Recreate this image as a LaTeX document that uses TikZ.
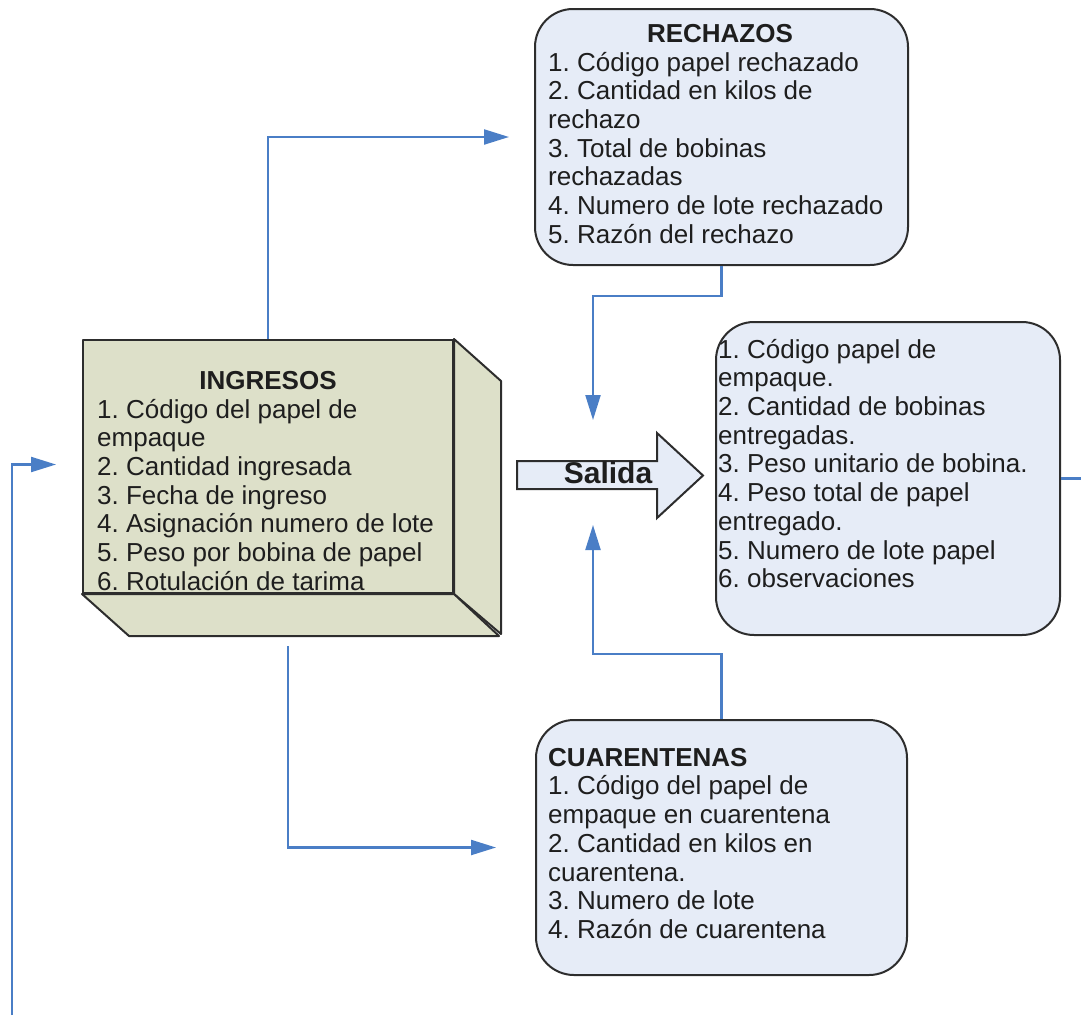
\documentclass[tikz,border=0pt]{standalone}
\usepackage{fontspec}
\setmainfont{Liberation Sans}
\usetikzlibrary{arrows.meta,calc}
\definecolor{linkblue}{RGB}{74,126,198}
\definecolor{boxblue}{RGB}{230,236,247}
\definecolor{boxolive}{RGB}{221,224,201}
\definecolor{edge}{RGB}{45,45,45}
\definecolor{ink}{RGB}{30,30,30}
\frenchspacing
\begin{document}
\begin{tikzpicture}[x=1pt,y=-1pt,
  txt/.style={font=\fontsize{26}{28.7}\selectfont\frenchspacing, text=ink, inner sep=0pt, align=left, anchor=north west},
  ttl/.style={font=\fontsize{26}{28.7}\selectfont\bfseries, text=ink, inner sep=0pt, anchor=base},
  roundbox/.style={draw=edge, line width=2pt, fill=boxblue, rounded corners=38pt, inner sep=0pt},
  cubeface/.style={draw=edge, line width=2pt, fill=boxolive, line join=round},
  conn/.style={draw=linkblue, line width=2.2pt},
  tip/.style={-{Triangle[length=25pt,width=15pt]}}
]
\useasboundingbox (0,0) rectangle (1081,1015);

% ---- INGRESOS block (front face plus two depth faces)
\node[cubeface, minimum width=370pt, minimum height=253pt, inner sep=0pt] (ing) at (268,466.5) {};
\draw[cubeface] (ing.north east) -- ++(47,42) -- ++(0,253) -- (ing.south east) -- cycle;
\draw[cubeface] (ing.south west) -- ++(47,42) -- ++(370,0) -- (ing.south east) -- cycle;
\node[ttl] (ingT) at (268,389) {INGRESOS};
\node[txt] (ingL) at (97,397.9) {\strut 1. Código del papel de\\empaque\\2. Cantidad ingresada\\3. Fecha de ingreso\\4. Asignación numero de lote\\5. Peso por bobina de papel\\6. Rotulación de tarima};

% ---- RECHAZOS
\node[roundbox, minimum width=373pt, minimum height=256pt] (rech) at (721.5,137) {};
\node[ttl] (rechT) at (720,42) {RECHAZOS};
\node[txt] (rechL) at (548,50.9) {\strut 1. Código papel rechazado\\2. Cantidad en kilos de\\rechazo\\3. Total de bobinas\\rechazadas\\4. Numero de lote rechazado\\5. Razón del rechazo};

% ---- output data
\node[roundbox, minimum width=344pt, minimum height=313pt] (out) at (888,478.5) {};
\node[txt] (outL) at (718,337.9) {\strut 1. Código papel de\\empaque.\\2. Cantidad de bobinas\\entregadas.\\3. Peso unitario de bobina.\\4. Peso total de papel\\entregado.\\5. Numero de lote papel\\6. observaciones};

% ---- CUARENTENAS
\node[roundbox, minimum width=371pt, minimum height=255pt] (cuar) at (721.5,847.5) {};
\node[txt] (cuarL) at (548,745.9) {\strut\textbf{CUARENTENAS}\\1. Código del papel de\\empaque en cuarentena\\2. Cantidad en kilos en\\cuarentena.\\3. Numero de lote\\4. Razón de cuarentena};

% ---- Salida block arrow
\draw[draw=edge, line width=2pt, fill=boxblue, line join=miter]
  (517,461) -- (657,461) -- (657,433) -- (703,475.5) -- (657,518) -- (657,489) -- (517,489) -- cycle;
\node[font=\fontsize{30}{34}\selectfont\bfseries, text=ink, inner sep=0pt, anchor=base] (salida) at (608,483) {Salida};

% ---- connectors
\coordinate (rechIn) at ($(rech.west)+(-25,0)$);
\coordinate (salTop) at (593,420);
\coordinate (salBot) at (593,525);
\coordinate (ingOut) at ($(ing.south)+(20,52)$);
\coordinate (cuarIn) at ($(cuar.west)+(-39,0)$);
\coordinate (outEnd) at ($(out.east)+(21,0)$);
\coordinate (loopStart) at (12,1015);
\coordinate (ingIn) at ($(ing.west)+(-26,-2)$);

\draw[conn,tip] (ing.north) |- (rechIn);
\draw[conn,tip] (rech.south) -- ++(0,30) -| (salTop);
\draw[conn,tip] (cuar.north) -- ++(0,-65) -| (salBot);
\draw[conn,tip] (ingOut) |- (cuarIn);
\draw[conn] (out.east) -- (outEnd);
\draw[conn,tip] (loopStart) |- (ingIn);
\end{tikzpicture}
\end{document}
